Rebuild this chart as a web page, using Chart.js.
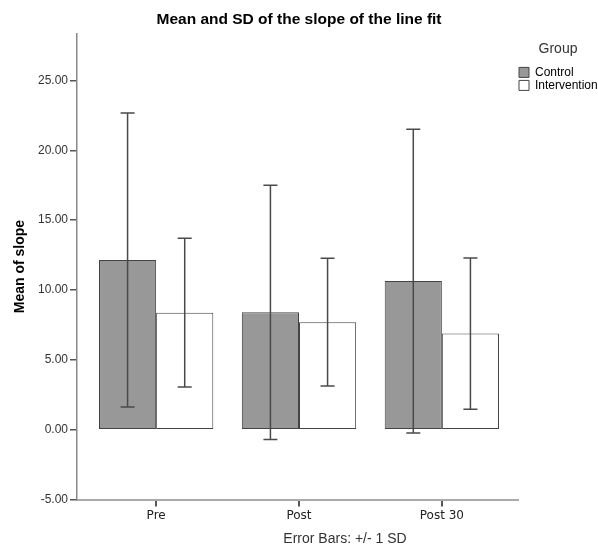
<!DOCTYPE html>
<html>
<head>
<meta charset="utf-8">
<script src="https://cdn.jsdelivr.net/npm/chart.js@4.4.1/dist/chart.umd.min.js"></script>
<style>
  html, body { margin: 0; padding: 0; background: #fff; }
</style>
</head>
<body>
<canvas id="slopeChart" width="598" height="549"></canvas>
<script>
// Mean slope of the line fit per time point, with +/- 1 SD
const timePoints = ['Pre', 'Post', 'Post 30'];
const controlMean = [12.15, 8.40, 10.64];
const controlSD = [10.53, 9.10, 10.87];
const interventionMean = [8.38, 7.70, 6.88];
const interventionSD = [5.32, 4.57, 5.42];
const yTicks = [-5, 0, 5, 10, 15, 20, 25];

const arial = '"Liberation Sans", Arial, sans-serif';

// Vertical error bars with caps, drawn on top of the bars
const errorBars = {
    id: 'errorBars',
    afterDatasetsDraw(chart) {
        const ctx = chart.ctx;
        const y = chart.scales.y;
        ctx.save();
        ctx.strokeStyle = '#4a4a4a';
        ctx.lineWidth = 1.5;
        chart.data.datasets.forEach((ds, di) => {
            chart.getDatasetMeta(di).data.forEach((bar, i) => {
                const hi = y.getPixelForValue(ds.data[i].y + ds.sd[i]);
                const lo = y.getPixelForValue(ds.data[i].y - ds.sd[i]);
                ctx.beginPath();
                ctx.moveTo(bar.x, hi); ctx.lineTo(bar.x, lo);
                ctx.moveTo(bar.x - 7, hi); ctx.lineTo(bar.x + 7, hi);
                ctx.moveTo(bar.x - 7, lo); ctx.lineTo(bar.x + 7, lo);
                ctx.stroke();
            });
        });
        ctx.restore();
    }
};

// Note under the x axis
const footnote = {
    id: 'footnote',
    afterDraw(chart) {
        const ctx = chart.ctx;
        ctx.save();
        ctx.font = '14px ' + arial;
        ctx.fillStyle = '#333';
        ctx.textAlign = 'center';
        ctx.textBaseline = 'middle';
        ctx.fillText('Error Bars: +/- 1 SD', 345, chart.height - 10);
        ctx.restore();
    }
};

function toPoints(values) {
    return values.map((v, i) => ({ x: i, y: v }));
}

const ctx = document.getElementById('slopeChart').getContext('2d');
new Chart(ctx, {
    type: 'bar',
    data: {
        datasets: [{
            label: 'Control',
            data: toPoints(controlMean),
            sd: controlSD,
            backgroundColor: '#989898',
            borderColor: '#444',
            borderWidth: 1,
            borderSkipped: false
        }, {
            label: 'Intervention',
            data: toPoints(interventionMean),
            sd: interventionSD,
            backgroundColor: '#ffffff',
            borderColor: '#444',
            borderWidth: 1,
            borderSkipped: false
        }]
    },
    options: {
        responsive: false,
        animation: false,
        devicePixelRatio: 1,
        categoryPercentage: 0.8,
        barPercentage: 1,
        layout: { padding: { left: 0, right: 0, top: 0, bottom: 25.5 } },
        plugins: {
            tooltip: { enabled: false },
            title: {
                display: true,
                text: 'Mean and SD of the slope of the line fit',
                color: '#000',
                font: { family: arial, size: 15.5, weight: 'bold' },
                padding: { top: 10, bottom: 5 }
            },
            legend: {
                position: 'right',
                align: 'start',
                fullSize: false,
                maxWidth: 80,
                title: {
                    display: true,
                    text: 'Group',
                    color: '#333',
                    font: { family: arial, size: 14 },
                    padding: { top: 9, bottom: 6 }
                },
                labels: {
                    boxWidth: 10,
                    boxHeight: 10,
                    padding: 1,
                    color: '#000',
                    font: { family: arial, size: 12 }
                }
            }
        },
        scales: {
            x: {
                type: 'linear',
                offset: false,
                min: -0.554,
                max: 2.533,
                afterFit: (scale) => { scale.height = 24; },
                afterBuildTicks: (scale) => {
                    scale.ticks = timePoints.map((_, i) => ({ value: i }));
                },
                ticks: {
                    padding: 2,
                    color: '#222',
                    font: { family: '"DejaVu Sans", Verdana, sans-serif', size: 12 },
                    callback: (v) => timePoints[v]
                },
                border: { color: '#aaa', width: 2 },
                grid: { offset: false, drawOnChartArea: false, tickLength: 7, color: '#555', lineWidth: 2 }
            },
            y: {
                min: -5,
                max: 28.36,
                afterFit: (scale) => { scale.width = 77; },
                afterBuildTicks: (scale) => {
                    scale.ticks = yTicks.map(v => ({ value: v }));
                },
                ticks: {
                    padding: 2,
                    color: '#333',
                    font: { family: arial, size: 12 },
                    callback: (v) => v.toFixed(2)
                },
                border: { color: '#888', width: 1.5 },
                grid: { drawOnChartArea: false, tickLength: 7, color: '#555', lineWidth: 1.5 },
                title: {
                    display: true,
                    text: 'Mean of slope',
                    color: '#000',
                    font: { family: arial, size: 14, weight: 'bold' },
                    padding: { top: 12, bottom: 0 }
                }
            }
        }
    },
    plugins: [errorBars, footnote]
});
</script>
</body>
</html>
